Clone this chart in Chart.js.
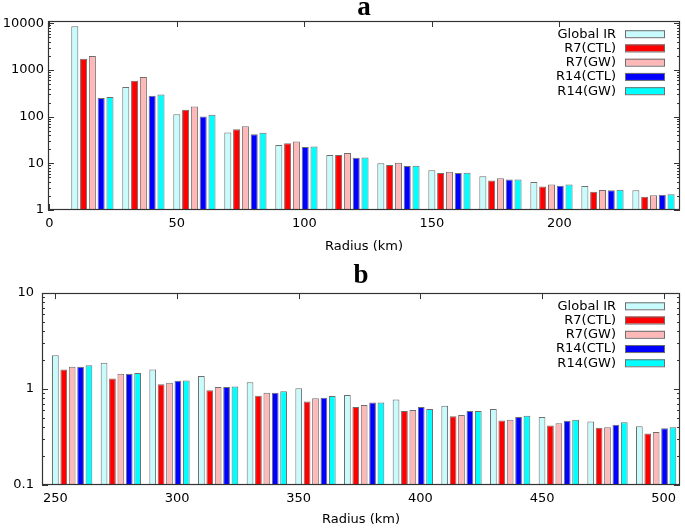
<!DOCTYPE html>
<html>
<head>
<meta charset="utf-8">
<script src="https://cdn.jsdelivr.net/npm/chart.js@4.4.1/dist/chart.umd.min.js"></script>
<style>
    body { margin: 0; background: #fff; }
    canvas { display: block; }
</style>
</head>
<body>
<canvas id="chartA" width="685" height="258"></canvas>
<canvas id="chartB" width="685" height="271"></canvas>
<script>
const seriesNames = ["Global IR", "R7(CTL)", "R7(GW)", "R14(CTL)", "R14(GW)"];

// panel a: 0-250 km
const radiiA = [10, 30, 50, 70, 90, 110, 130, 150, 170, 190, 210, 230];
const globalIrA = [8700, 430, 112, 46, 24.7, 15.1, 10, 7.1, 5.3, 4.0, 3.27, 2.64];
const r7CtlA = [1740, 590, 140, 54, 26.8, 15.1, 9.2, 6.2, 4.3, 3.2, 2.47, 1.93];
const r7GwA = [1990, 705, 165, 62, 29.5, 16.6, 10.3, 6.6, 4.8, 3.5, 2.68, 2.06];
const r14CtlA = [250, 280, 101, 42, 22.3, 13.2, 8.75, 6.2, 4.5, 3.3, 2.64, 2.13];
const r14GwA = [263, 300, 110, 45, 23, 13.4, 8.9, 6.3, 4.5, 3.5, 2.72, 2.17];
const xTicksA = [0, 50, 100, 150, 200];
const yTicksA = [1, 10, 100, 1000, 10000];

// panel b: 250-500 km
const radiiB = [250, 270, 290, 310, 330, 350, 370, 390, 410, 430, 450, 470, 490];
const globalIrB = [2.25, 1.88, 1.60, 1.37, 1.18, 1.02, 0.866, 0.78, 0.67, 0.62, 0.51, 0.46, 0.41];
const r7CtlB = [1.60, 1.29, 1.12, 0.97, 0.85, 0.74, 0.65, 0.59, 0.52, 0.47, 0.418, 0.395, 0.345];
const r7GwB = [1.71, 1.44, 1.16, 1.05, 0.915, 0.80, 0.68, 0.604, 0.535, 0.48, 0.44, 0.40, 0.356];
const r14CtlB = [1.71, 1.44, 1.22, 1.05, 0.915, 0.81, 0.726, 0.65, 0.59, 0.51, 0.467, 0.425, 0.39];
const r14GwB = [1.77, 1.47, 1.23, 1.066, 0.946, 0.845, 0.726, 0.62, 0.59, 0.526, 0.48, 0.45, 0.40];
const xTicksB = [250, 300, 350, 400, 450, 500];
const yTicksB = [0.1, 1, 10];

const fills = ["#c8fcfc", "#ff0000", "#ffb8b8", "#0000ff", "#00ffff"];
const edge = "#6e6e6e";
const groupShift = 6.9; // first bar sits on the radius, group centre two slots to the right

Chart.defaults.font.family = "'DejaVu Sans', sans-serif";
Chart.defaults.font.size = 13;
Chart.defaults.color = "#000";

// gnuplot style frame, inward tics and legend inside the plot
const gnuplotFrame = {
    id: "gnuplotFrame",
    beforeDatasetsDraw(chart) {
        const { ctx, chartArea: a, scales } = chart;
        ctx.save();
        ctx.strokeStyle = "#333";
        ctx.lineWidth = 1;
        ctx.beginPath();
        scales.x.ticks.forEach((t) => {
            const px = Math.round(scales.x.getPixelForValue(t.value)) + 0.5;
            ctx.moveTo(px, a.bottom);
            ctx.lineTo(px, a.bottom - 6);
            ctx.moveTo(px, a.top);
            ctx.lineTo(px, a.top + 6);
        });
        const ys = scales.y;
        const e0 = Math.floor(Math.log10(ys.min));
        const e1 = Math.ceil(Math.log10(ys.max));
        for (let e = e0; e <= e1; e++) {
            for (let m = 1; m <= 9; m++) {
                const v = m * Math.pow(10, e);
                if (v < ys.min * 0.999 || v > ys.max * 1.001) continue;
                const py = Math.round(ys.getPixelForValue(v)) + 0.5;
                const len = m === 1 ? 6 : 3;
                ctx.moveTo(a.left, py);
                ctx.lineTo(a.left + len, py);
                ctx.moveTo(a.right, py);
                ctx.lineTo(a.right - len, py);
            }
        }
        ctx.stroke();
        ctx.restore();
    },
    afterDatasetsDraw(chart) {
        const { ctx, chartArea: a } = chart;
        ctx.save();
        ctx.strokeStyle = "#333";
        ctx.lineWidth = 1.2;
        ctx.strokeRect(Math.round(a.left) + 0.5, Math.round(a.top) + 0.5,
            Math.round(a.width) - 1, Math.round(a.height) - 1);

        ctx.font = "13px 'DejaVu Sans', sans-serif";
        ctx.textAlign = "right";
        ctx.textBaseline = "middle";
        chart.data.datasets.forEach((ds, i) => {
            const cy = a.top + 12.7 + i * 14.25;
            ctx.fillStyle = "#000";
            ctx.fillText(ds.label, a.right - 64, cy + 0.5);
            ctx.fillStyle = ds.backgroundColor;
            ctx.fillRect(a.right - 55, cy - 3.5, 40, 7);
            ctx.strokeStyle = edge;
            ctx.lineWidth = 1;
            ctx.strokeRect(a.right - 55 + 0.5, cy - 3.5 + 0.5, 39, 7);
        });
        ctx.restore();
    }
};

function makeDatasets(radii, seriesList) {
    return seriesList.map((vals, k) => ({
        label: seriesNames[k],
        data: radii.map((r, i) => ({ x: r + groupShift, y: vals[i] })),
        backgroundColor: fills[k],
        borderColor: edge,
        borderWidth: 1,
        categoryPercentage: 0.8625,
        barPercentage: 0.8
    }));
}

function makeChart(id, p) {
    return new Chart(document.getElementById(id), {
        type: "bar",
        data: { datasets: makeDatasets(p.radii, p.series) },
        plugins: [gnuplotFrame],
        options: {
            responsive: false,
            animation: false,
            layout: { padding: { right: 5 } },
            plugins: {
                legend: { display: false },
                tooltip: { enabled: false },
                title: {
                    display: true,
                    text: p.title,
                    fullSize: false,
                    color: "#000",
                    font: { family: "'Liberation Serif', 'DejaVu Serif', serif", weight: "bold", size: 27, lineHeight: p.titleLine },
                    padding: p.titlePad
                }
            },
            scales: {
                x: {
                    type: "linear",
                    offset: false,
                    min: p.xMin,
                    max: p.xMax,
                    grid: { display: false, drawTicks: false, offset: false },
                    border: { display: false },
                    ticks: { padding: 6, autoSkip: false, maxRotation: 0 },
                    afterBuildTicks: (axis) => { axis.ticks = p.xTicks.map((v) => ({ value: v })); },
                    afterFit: (axis) => { axis.height = p.xAxisHeight; },
                    title: { display: true, text: "Radius (km)", padding: { top: 0, bottom: p.xTitlePad } }
                },
                y: {
                    type: "logarithmic",
                    min: p.yMin,
                    max: p.yMax,
                    grid: { display: false, drawTicks: false },
                    border: { display: false },
                    ticks: { padding: p.yPad, autoSkip: false, callback: (v) => String(v) },
                    afterBuildTicks: (axis) => { axis.ticks = p.yTicks.map((v) => ({ value: v })); },
                    afterFit: (axis) => { axis.width = p.yAxisWidth; }
                }
            }
        }
    });
}

makeChart("chartA", {
    title: "a", titleLine: 0.43, titlePad: { top: 2, bottom: 7.4 },
    radii: radiiA, series: [globalIrA, r7CtlA, r7GwA, r14CtlA, r14GwA],
    xMin: -0.5, xMax: 247.3, xTicks: xTicksA, xAxisHeight: 48, xTitlePad: 4,
    yMin: 1, yMax: 11200, yTicks: yTicksA, yAxisWidth: 48, yPad: 4
});

makeChart("chartB", {
    title: "b", titleLine: 1.3, titlePad: { top: 0, bottom: 0 },
    radii: radiiB, series: [globalIrB, r7CtlB, r7GwB, r14CtlB, r14GwB],
    xMin: 244.5, xMax: 506.7, xTicks: xTicksB, xAxisHeight: 44, xTitlePad: 2,
    yMin: 0.1, yMax: 10, yTicks: yTicksB, yAxisWidth: 42, yPad: 8
});
</script>
</body>
</html>
